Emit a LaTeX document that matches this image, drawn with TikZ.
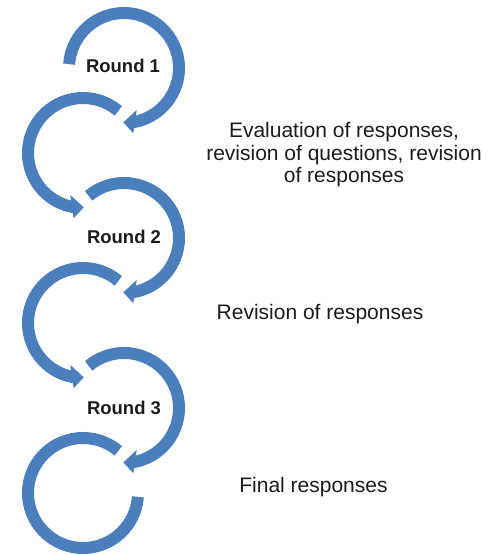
\documentclass[tikz,border=0pt]{standalone}
\usepackage{fontspec}
\setmainfont{Liberation Sans}
\usetikzlibrary{calc}
\definecolor{ringblue}{RGB}{74,126,189}
\definecolor{inkgrey}{RGB}{28,28,28}
\tikzset{
  ring/.style={draw=ringblue, line width=12pt, line cap=butt},
  headfill/.style={fill=ringblue},
  roundlabel/.style={inner sep=0pt, text=inkgrey, font=\bfseries\fontsize{18.5}{20}\selectfont},
  note/.style={inner sep=0pt, text=inkgrey, font=\fontsize{21}{22.5}\selectfont},
  % clockwise loop ending in a head pointing west at the bottom
  rightloop/.pic={
    \draw[ring] (#1:55) arc[start angle=#1, end angle=-80.5, radius=55];
    \fill[headfill] (-0.7,-54.3) -- (12.7,-42) -- (9.3,-65.3) -- cycle;
  },
  % counter-clockwise loop ending in a head pointing east at the bottom
  leftloop/.pic={
    \draw[ring] (50:55) arc[start angle=50, end angle=260.5, radius=55];
    \fill[headfill] (0.7,-54.3) -- (-12.7,-42) -- (-9.3,-65.3) -- cycle;
  }
}
\begin{document}
\begin{tikzpicture}[x=1pt, y=1pt]
  \useasboundingbox (0,0) rectangle (497,555);

  % centres of the six loops
  \coordinate (c1) at (124,487);
  \coordinate (c2) at (83,402);
  \coordinate (c3) at (124,317);
  \coordinate (c4) at (83,232);
  \coordinate (c5) at (124,147);
  \coordinate (c6) at (83,62);

  \pic at (c1) {rightloop=176};
  \pic at (c2) {leftloop};
  \pic at (c3) {rightloop=130};
  \pic at (c4) {leftloop};
  \pic at (c5) {rightloop=130};
  % last loop, open, without a head
  \draw[ring] ($(c6)+(50:55)$) arc[start angle=50, end angle=356, radius=55];

  \node[roundlabel, anchor=base] (r1) at (123,482) {Round 1};
  \node[roundlabel, anchor=base] (r2) at (124,311) {Round 2};
  \node[roundlabel, anchor=base] (r3) at (124,140) {Round 3};

  \node[note, align=center] (n1) at (344,400)
    {Evaluation of responses,\\revision of questions, revision\\of responses};
  \node[note, anchor=base] (n2) at (320,235) {Revision of responses};
  \node[note, anchor=base] (n3) at (313.5,63) {Final responses};
\end{tikzpicture}
\end{document}
